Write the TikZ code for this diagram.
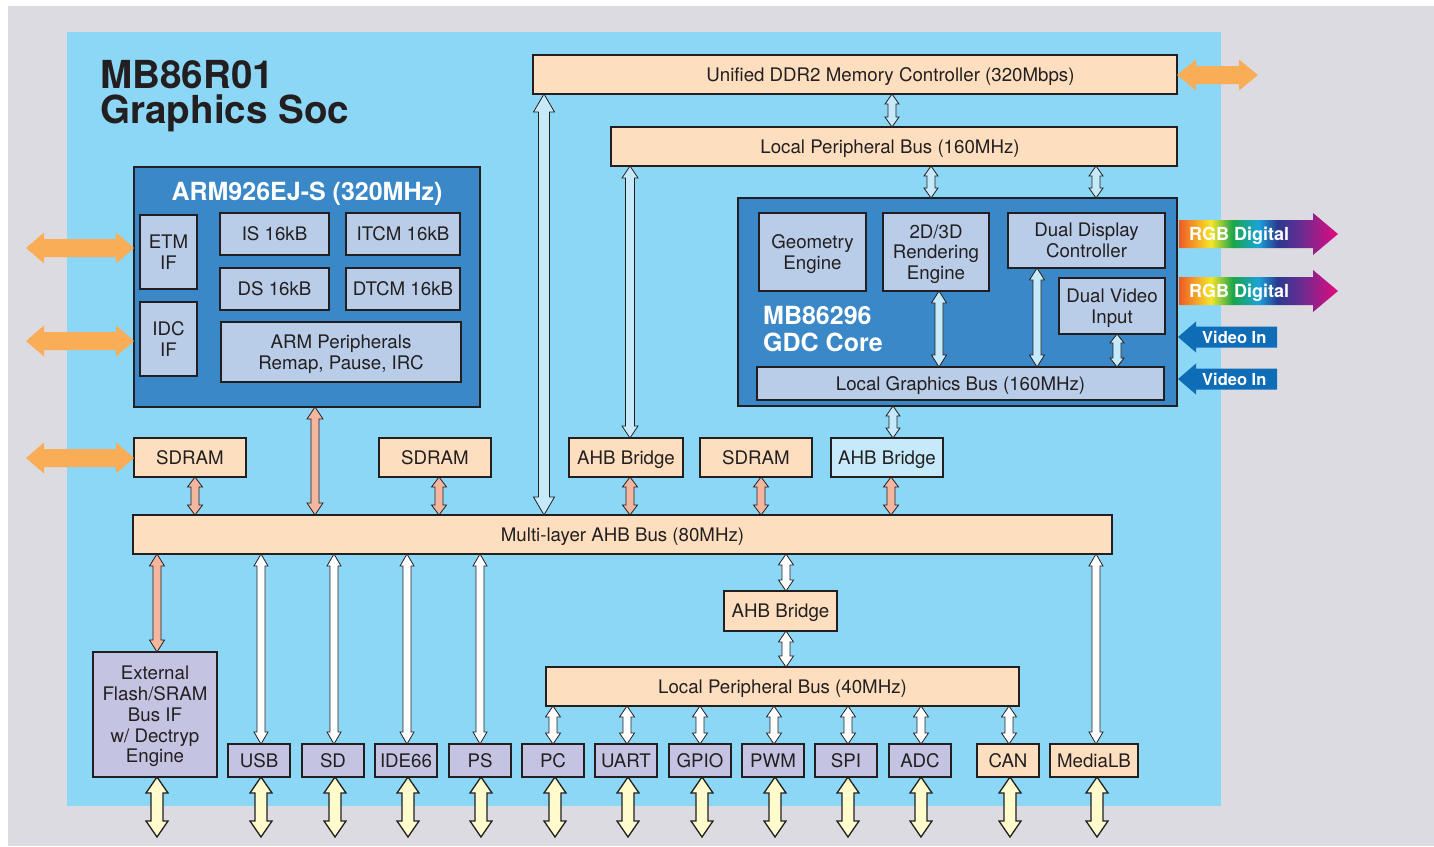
\documentclass[tikz,border=0pt]{standalone}
\usepackage{fontspec}
\setmainfont{TeX Gyre Heros}
\usetikzlibrary{calc}
\definecolor{bggrey}{HTML}{DCDBE1}
\definecolor{sky}{HTML}{8DD7F6}
\definecolor{darkblue}{HTML}{3B88C8}
\definecolor{innerblue}{HTML}{B9CDE8}
\definecolor{peach}{HTML}{FDDFBF}
\definecolor{lavender}{HTML}{C5C3E2}
\definecolor{paleyellow}{HTML}{FFFBCC}
\definecolor{orangeA}{HTML}{F9AD57}
\definecolor{salmon}{HTML}{F5B6A0}
\definecolor{arrowblue}{HTML}{C6EAF9}
\definecolor{videoblue}{HTML}{0F6CB6}
\definecolor{ink}{HTML}{231F20}
\definecolor{rA}{HTML}{F15A24}
\definecolor{rB}{HTML}{F5E62A}
\definecolor{rC}{HTML}{1AA54A}
\definecolor{rD}{HTML}{1AA3D9}
\definecolor{rE}{HTML}{2B3990}
\definecolor{rF}{HTML}{662D91}
\definecolor{rG}{HTML}{E5097F}
\pgfdeclarehorizontalshading{rainbow}{100bp}{color(0bp)=(rA); color(25bp)=(rA); color(35bp)=(rB); color(42bp)=(rC); color(50bp)=(rD); color(56bp)=(rE); color(63bp)=(rF); color(75bp)=(rG); color(100bp)=(rG)}
\newcommand\mybox[7]{\node[#2, minimum width={(#5)-(#3)}, minimum height={(#6)-(#4)}] (#1) at ({((#3)+(#5))/2},{((#4)+(#6))/2}) {#7};}
% vertical double arrow: style, x, top anchor, bottom anchor, shaft half width, head half width, head length
\newcommand\myvarr[7]{\path[#1] let \p1=(#3), \p2=(#4) in
 (#2pt,\y1) -- ({#2pt+#6pt},{\y1-#7pt}) -- ({#2pt+#5pt},{\y1-#7pt}) -- ({#2pt+#5pt},{\y2+#7pt}) -- ({#2pt+#6pt},{\y2+#7pt})
 -- (#2pt,\y2) -- ({#2pt-#6pt},{\y2+#7pt}) -- ({#2pt-#5pt},{\y2+#7pt}) -- ({#2pt-#5pt},{\y1-#7pt}) -- ({#2pt-#6pt},{\y1-#7pt}) -- cycle;}
% horizontal double arrow: style, left anchor, right anchor, shaft half, head half, head length
\newcommand\myharr[6]{\path[#1] let \p1=(#2), \p2=(#3) in
 (\x1,\y1) -- ({\x1+#6pt},{\y1+#5pt}) -- ({\x1+#6pt},{\y1+#4pt}) -- ({\x2-#6pt},{\y1+#4pt}) -- ({\x2-#6pt},{\y1+#5pt})
 -- (\x2,\y1) -- ({\x2-#6pt},{\y1-#5pt}) -- ({\x2-#6pt},{\y1-#4pt}) -- ({\x1+#6pt},{\y1-#4pt}) -- ({\x1+#6pt},{\y1-#5pt}) -- cycle;}
\tikzset{
  lbl/.style={font=\fontsize{18.7}{20.8}\selectfont, text=ink, align=center, inner sep=0pt, outer sep=0pt, text depth=-2.5pt},
  pbox/.style={lbl, draw=ink, line width=2.5pt, fill=peach},
  ibox/.style={lbl, draw=ink, line width=2pt, fill=innerblue},
  dbox/.style={draw=ink, line width=2.5pt, fill=darkblue, inner sep=0pt, outer sep=0pt},
  lbox/.style={lbl, draw=ink, line width=2.5pt, fill=lavender},
  lbbox/.style={lbl, draw=ink, line width=2.5pt, fill=arrowblue},
  wtitle/.style={font=\bfseries\fontsize{25}{27}\selectfont, text=white, inner sep=0pt},
  gtitle/.style={font=\bfseries\fontsize{25}{27}\selectfont, text=white, inner sep=0pt, anchor=base west},
  bigtitle/.style={font=\bfseries\fontsize{38.6}{38}\selectfont, text=ink, inner sep=0pt, anchor=base west},
  tagtext/.style={font=\bfseries\fontsize{18}{20}\selectfont, text=white, inner sep=0pt, anchor=base west},
  vidtext/.style={font=\bfseries\fontsize{16.5}{18}\selectfont, text=white, inner sep=0pt, anchor=base west},
  oarr/.style={fill=orangeA},
  sarr/.style={fill=salmon, draw=ink, line width=0.8pt, line join=miter},
  warr/.style={fill=white, draw=ink, line width=0.8pt},
  barr/.style={fill=arrowblue, draw=ink, line width=0.8pt},
  yarr/.style={fill=paleyellow, draw=ink, line width=1.3pt},
}
\begin{document}
\begin{tikzpicture}[x=1pt,y=-1pt]
\useasboundingbox (0,0) rectangle (1434,846);
\fill[white] (0,0) rectangle (1434,846);
\fill[bggrey] (8,6) rectangle (1434,846);
\fill[sky] (67,32) rectangle (1221,806);

% title
\node[bigtitle] (t1) at (100,88) {MB86R01};
\node[bigtitle] (t2) at (100,123) {Graphics Soc};

% memory and buses
\mybox{ddr}{pbox}{533}{55}{1177}{94}{\hspace*{71pt}Unified DDR2 Memory Controller (320Mbps)}
\mybox{lpb}{pbox}{611}{127}{1177}{166}{\hspace*{-8pt}Local Peripheral Bus (160MHz)}

% ARM
\mybox{arm}{dbox}{134}{167}{480}{407}{}
\node[wtitle, anchor=base] (armt) at (307,200) {ARM926EJ-S (320MHz)};
\mybox{etm}{ibox}{140}{215}{197}{289}{ETM\\IF}
\mybox{idc}{ibox}{140}{302}{197}{376}{IDC\\IF}
\mybox{is}{ibox}{220}{213}{329}{255}{IS 16kB}
\mybox{itcm}{ibox}{346}{213}{460}{255}{ITCM 16kB}
\mybox{ds}{ibox}{220}{268}{329}{310}{DS 16kB}
\mybox{dtcm}{ibox}{346}{268}{460}{310}{DTCM 16kB}
\mybox{armp}{ibox}{221}{322}{461}{382}{ARM Peripherals\\Remap, Pause, IRC}

% GDC
\mybox{gdc}{dbox}{738}{198}{1177}{406}{}
\mybox{geo}{ibox}{759}{213}{866}{291}{Geometry\\Engine}
\mybox{rend}{ibox}{883}{213}{989}{291}{2D/3D\\Rendering\\Engine}
\mybox{ddc}{ibox}{1008}{213}{1165}{268}{Dual Display\\Controller}
\mybox{dvi}{ibox}{1059}{278}{1165}{334}{Dual Video\\Input}
\mybox{lgb}{ibox}{757}{367}{1164}{400}{Local Graphics Bus (160MHz)}
\node[gtitle] (g1) at (763,324) {MB86296};
\node[gtitle] (g2) at (763,351) {GDC Core};

% middle row
\mybox{sd1}{pbox}{134}{438}{246}{477}{SDRAM}
\mybox{sd2}{pbox}{379}{438}{491}{477}{SDRAM}
\mybox{ahb1}{pbox}{569}{438}{683}{477}{AHB Bridge}
\mybox{sd3}{pbox}{700}{438}{812}{477}{SDRAM}
\mybox{ahb2}{lbbox}{831}{438}{943}{477}{AHB Bridge}
\mybox{bus}{pbox}{133}{515}{1112}{554}{Multi-layer AHB Bus (80MHz)}

% lower part
\mybox{ahb3}{pbox}{724}{591}{837}{631}{AHB Bridge}
\mybox{lpb40}{pbox}{546}{667}{1019}{706}{Local Peripheral Bus (40MHz)}
\mybox{ext}{lbox}{93}{652}{217}{777}{External\\Flash/SRAM\\Bus IF\\w/ Dectryp\\Engine}
\mybox{usb}{lbox}{228}{744}{290}{777}{USB}
\mybox{sd}{lbox}{302}{744}{364}{777}{SD}
\mybox{ide}{lbox}{375}{744}{437}{777}{IDE66}
\mybox{ps}{lbox}{449}{744}{511}{777}{PS}
\mybox{pc}{lbox}{522}{744}{584}{777}{PC}
\mybox{uart}{lbox}{595}{744}{657}{777}{UART}
\mybox{gpio}{lbox}{669}{744}{731}{777}{GPIO}
\mybox{pwm}{lbox}{742}{744}{804}{777}{PWM}
\mybox{spi}{lbox}{815}{744}{877}{777}{SPI}
\mybox{adc}{lbox}{889}{744}{951}{777}{ADC}
\mybox{can}{pbox}{977}{744}{1039}{777}{CAN}
\mybox{mlb}{pbox}{1050}{744}{1138}{777}{MediaLB}

% light blue arrows
\myvarr{barr}{544}{ddr.south}{bus.north}{5.5}{10.5}{18}
\myvarr{barr}{892}{ddr.south}{lpb.north}{4}{7}{10}
\myvarr{barr}{931}{lpb.south}{gdc.north}{4}{7}{10}
\myvarr{barr}{1096}{lpb.south}{gdc.north}{4}{7}{10}
\myvarr{barr}{630}{lpb.south}{ahb1.north}{4.5}{8}{12}
\myvarr{barr}{939}{rend.south}{lgb.north}{4}{7.5}{12}
\myvarr{barr}{1037}{ddc.south}{lgb.north}{4}{7.5}{12}
\myvarr{barr}{1117}{dvi.south}{lgb.north}{4}{7}{9}
\myvarr{barr}{893}{gdc.south}{ahb2.north}{4}{7}{10}

% salmon arrows
\myvarr{sarr}{195}{sd1.south}{bus.north}{4}{7.5}{10}
\myvarr{sarr}{315}{arm.south}{bus.north}{4}{8}{12}
\myvarr{sarr}{439}{sd2.south}{bus.north}{4}{7.5}{10}
\myvarr{sarr}{630}{ahb1.south}{bus.north}{4}{7.5}{10}
\myvarr{sarr}{761}{sd3.south}{bus.north}{4}{7.5}{10}
\myvarr{sarr}{891}{ahb2.south}{bus.north}{4}{7.5}{10}
\myvarr{sarr}{157}{bus.south}{ext.north}{4}{7.5}{12}

% white arrows
\myvarr{warr}{261}{bus.south}{usb.north}{4}{7}{12}
\myvarr{warr}{334}{bus.south}{sd.north}{4}{7}{12}
\myvarr{warr}{407}{bus.south}{ide.north}{4}{7}{12}
\myvarr{warr}{480}{bus.south}{ps.north}{4}{7}{12}
\myvarr{warr}{1096}{bus.south}{mlb.north}{4}{7}{12}
\myvarr{warr}{786}{bus.south}{ahb3.north}{4}{7.5}{11}
\myvarr{warr}{786}{ahb3.south}{lpb40.north}{4}{7.5}{11}
\foreach \nm/\xx in {pc/553, uart/627, gpio/700, pwm/774, spi/848, adc/921, can/1009}
  {\myvarr{warr}{\xx}{lpb40.south}{\nm.north}{4}{7.5}{11}}

% external yellow arrows
\foreach \nm/\xx in {ext/157, usb/261, sd/335, ide/408, ps/481, pc/555, uart/628, gpio/702, pwm/775, spi/848, adc/921, can/1010, mlb/1097}
  {\coordinate (y\nm) at (\xx,837);
   \myvarr{yarr}{\xx}{\nm.south}{y\nm}{6}{11}{16}}

% orange arrows
\coordinate (oL1) at (26,248);
\coordinate (oL2) at (26,341);
\coordinate (oL3) at (26,458);
\coordinate (oR) at (1258,75);
\myharr{oarr}{oL1}{arm.west |- oL1}{9}{15.5}{18}
\myharr{oarr}{oL2}{arm.west |- oL2}{9}{15.5}{18}
\myharr{oarr}{oL3}{sd1.west |- oL3}{9}{15.5}{18}
\myharr{oarr}{ddr.east |- oR}{oR}{9}{15.5}{19}

% RGB Digital outputs
\shade[shading=rainbow] (1179,220) -- (1313,220) -- (1313,213) -- (1338,234) -- (1313,255) -- (1313,248) -- (1179,248) -- cycle;
\node[tagtext] (rgb1) at (1189,240.5) {RGB Digital};
\shade[shading=rainbow] (1179,277) -- (1313,277) -- (1313,270) -- (1338,291) -- (1313,312) -- (1313,305) -- (1179,305) -- cycle;
\node[tagtext] (rgb2) at (1189,297.5) {RGB Digital};

% Video In inputs
\fill[videoblue] (1178,337) -- (1196,321.5) -- (1196,326.5) -- (1277,326.5) -- (1277,347.5) -- (1196,347.5) -- (1196,352.5) -- cycle;
\node[vidtext] (vid1) at (1202,343) {Video In};
\fill[videoblue] (1178,379) -- (1196,363.5) -- (1196,368.5) -- (1277,368.5) -- (1277,389.5) -- (1196,389.5) -- (1196,394.5) -- cycle;
\node[vidtext] (vid2) at (1202,385) {Video In};
\end{tikzpicture}
\end{document}
